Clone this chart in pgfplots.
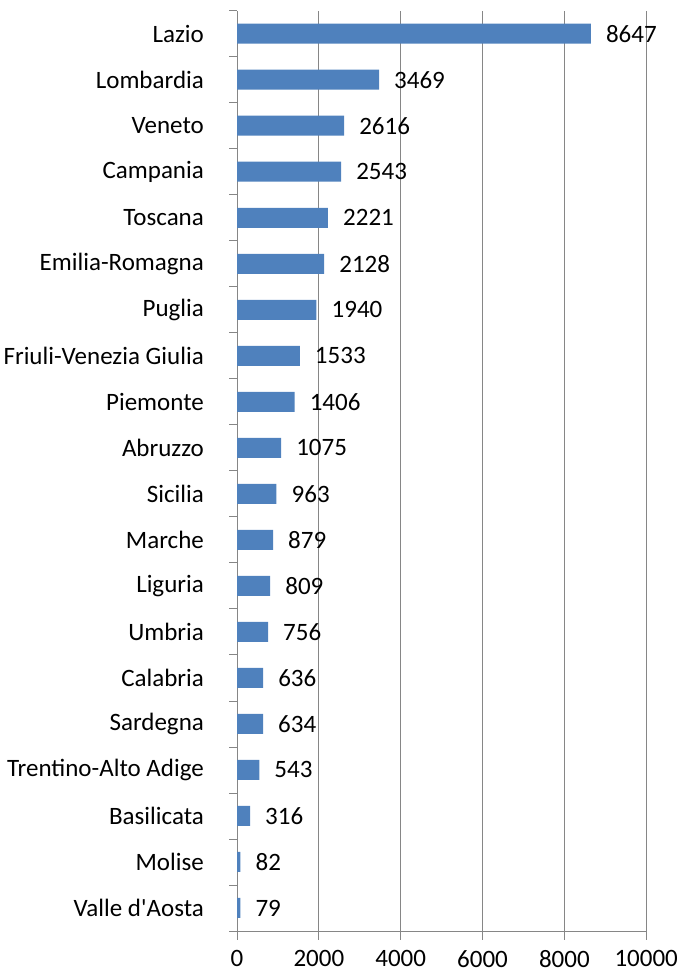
\documentclass[border=0pt]{standalone}
\usepackage{pgfplots}
\pgfplotsset{compat=1.18}
\usepackage{fontspec}
\setmainfont{Carlito}
\definecolor{barblue}{HTML}{4F81BD}
\definecolor{gridgray}{HTML}{868686}
\begin{document}
\fontsize{25}{30}\selectfont
\begin{tikzpicture}
\begin{axis}[
  name=ax,
  scale only axis,
  width=409pt, height=920pt,
  xbar, bar width=20pt,
  xmin=0, xmax=10000,
  ymin=-0.5, ymax=19.5,
  axis x line=bottom, axis y line=left,
  axis line style={gridgray, line width=0.8pt, -},
  xtick={0,2000,...,10000},
  scaled x ticks=false,
  xmajorgrids, major grid style={gridgray, line width=0.8pt},
  ytick={0,...,19},
  yticklabels={Valle d\textquotesingle Aosta,Molise,Basilicata,Trentino-Alto Adige,Sardegna,Calabria,Umbria,Liguria,Marche,Sicilia,Abruzzo,Piemonte,Friuli-Venezia Giulia,Puglia,Emilia-Romagna,Toscana,Campania,Veneto,Lombardia,Lazio},
  minor ytick={-0.5,0.5,...,19.5},
  tick align=outside,
  major tick length=9pt,
  minor tick length=8pt,
  y tick style={draw=none},
  minor y tick style={draw=gridgray, line width=0.8pt},
  x tick style={gridgray, line width=0.8pt},
  yticklabel style={inner sep=0pt, xshift=-24pt},
  xticklabel style={inner sep=0pt, yshift=-10pt},
  /pgf/number format/1000 sep={},
  /pgf/number format/assume math mode=true,
  nodes near coords,
  nodes near coords style={anchor=west, inner sep=0pt, xshift=15pt, text=black},
  every node near coord/.append style={/pgf/number format/1000 sep={}},
  clip=false,
]
\addplot[fill=barblue, draw=none] coordinates {
(79,0) (82,1) (316,2) (543,3) (634,4) (636,5) (756,6) (809,7) (879,8) (963,9)
(1075,10) (1406,11) (1533,12) (1940,13) (2128,14) (2221,15) (2543,16) (2616,17) (3469,18) (8647,19)
};
\coordinate (sw) at (rel axis cs:0,0);
\coordinate (ne) at (rel axis cs:1,1);
\end{axis}
\pgfresetboundingbox
\path[use as bounding box] ([xshift=-237pt,yshift=-42pt]sw) rectangle ([xshift=35pt,yshift=10.7pt]ne);
\end{tikzpicture}
\end{document}
